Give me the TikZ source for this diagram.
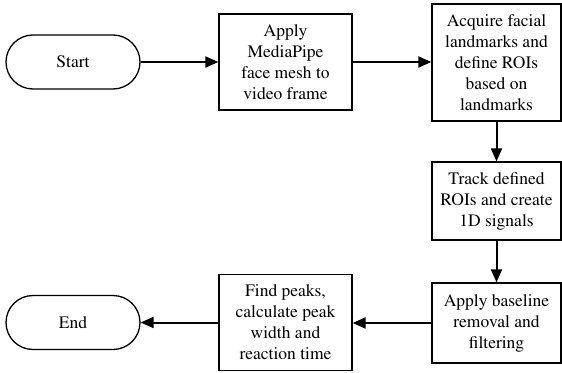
\documentclass[tikz,border=0pt]{standalone}
\usepackage[T1]{fontenc}
\usepackage{mathptmx}
\usetikzlibrary{arrows.meta}
\begin{document}
\begin{tikzpicture}[x=1pt,y=-1pt,
  txt/.style={align=center, font=\fontsize{17.5}{21}\selectfont, inner sep=0pt},
  box/.style={txt, draw, line width=1.3pt, minimum width=133pt},
  term/.style={txt, draw, line width=1.3pt, rounded corners=27pt, minimum width=134pt, minimum height=54pt},
  arr/.style={-{Triangle[length=13pt,width=11pt]}, line width=2pt}]
\useasboundingbox (0,0) rectangle (562,372);
\node[term] (start) at (73,62) {Start};
\node[box, minimum height=96pt] (b2) at (285.5,62) {Apply\\MediaPipe\\face mesh to\\video frame};
\node[box, minimum width=129pt, minimum height=117pt] (b3) at (496.5,62.5) {Acquire facial\\landmarks and\\define ROIs\\based on\\landmarks};
\node[box, minimum width=129pt, minimum height=78pt] (b4) at (496.5,201) {Track defined\\ROIs and create\\1D signals};
\node[box, minimum width=129pt, minimum height=80pt] (b5) at (496.5,323) {Apply baseline\\removal and\\filtering};
\node[box, minimum height=96pt] (b6) at (285.5,322.5) {Find peaks,\\calculate peak\\width and\\reaction time};
\node[term] (end) at (73,322.5) {End};
\draw[arr] (start) -- (b2);
\draw[arr] (b2.east) -- (b2.east -| b3.west);
\draw[arr] (b3) -- (b4);
\draw[arr] (b4) -- (b5);
\draw[arr] (b5.west) -- (b5.west -| b6.east);
\draw[arr] (b6) -- (end);
\end{tikzpicture}
\end{document}
